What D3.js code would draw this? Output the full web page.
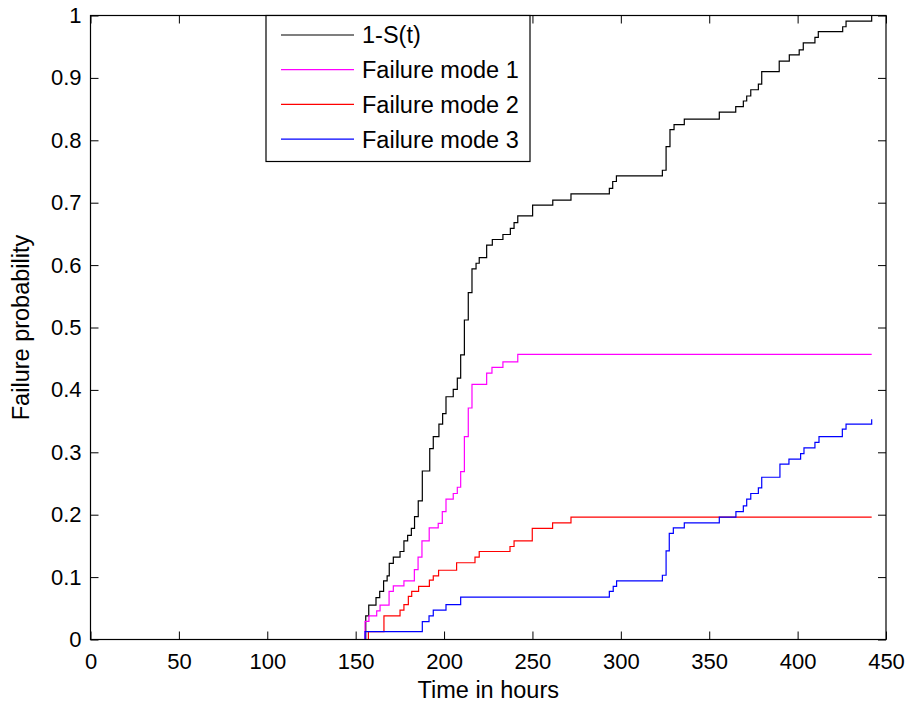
<!DOCTYPE html>
<meta charset="utf-8">
<style>

html,
body {
  margin: 0;
  overflow: hidden;
  background: #fff;
}

text {
  font-family: Arial, "Liberation Sans", sans-serif;
  font-size: 22px;
  fill: #000;
}

.label,
.item text {
  font-size: 23.5px;
}

.curve {
  fill: none;
  stroke-width: 1.2;
}

</style>
<body>
<script src="https://d3js.org/d3.v7.min.js"></script>
<script>

var width = 908,
 height = 704,
 plotLeft = 90.5,
 plotRight = 886,
 plotTop = 15.5,
 plotBottom = 639.5,
 tickLen = 8;

// 1-S(t)
var survTimes = [0, 155.7, 157.4, 161.5, 163.6, 165.8, 167.8, 169.0, 171.3, 175.1, 177.3, 179.4, 181.5, 183.3, 185.4, 187.7,
  191.9, 193.9, 197.1, 199.2, 201.1, 205.2, 207.5, 209.4, 211.5, 213.7, 215.8, 218.1, 219.9, 224.1, 227.3, 233.3, 237.5,
  239.6, 241.7, 250.1, 261.5, 271.8, 293.5, 295.4, 297.5, 323.5, 325.6, 327.8, 330.1, 335.9, 355.7, 365.0, 369.3, 371.2,
  373.5, 377.8, 379.7, 389.6, 395.3, 400.9, 403.2, 409.8, 411.7, 425.5, 427.4, 441.9];
var survProb = [0, 0.038, 0.055, 0.067, 0.077, 0.094, 0.102, 0.122, 0.132, 0.141, 0.158, 0.167, 0.178, 0.197, 0.222, 0.270,
  0.306, 0.325, 0.345, 0.362, 0.389, 0.401, 0.419, 0.456, 0.512, 0.556, 0.594, 0.603, 0.612, 0.632, 0.641, 0.649, 0.659,
  0.668, 0.679, 0.696, 0.704, 0.714, 0.723, 0.734, 0.743, 0.752, 0.790, 0.817, 0.825, 0.834, 0.845, 0.854, 0.863, 0.871,
  0.881, 0.890, 0.910, 0.927, 0.937, 0.945, 0.956, 0.965, 0.974, 0.982, 0.991, 1.0];

// failure mode 1
var mode1Times = [0, 155.3, 157.5, 161.9, 163.8, 168.9, 171.3, 177.3, 183.2, 185.3, 187.5, 191.6, 196.7, 199.0, 201.1,
  205.2, 207.5, 209.4, 211.5, 213.7, 215.8, 224.1, 227.1, 233.3, 241.7, 441.9];
var mode1Prob = [0, 0.029, 0.038, 0.046, 0.055, 0.077, 0.086, 0.094, 0.112, 0.132, 0.158, 0.179, 0.186, 0.205, 0.225,
  0.234, 0.244, 0.269, 0.325, 0.371, 0.409, 0.427, 0.436, 0.445, 0.457, 0.457];

// failure mode 2
var mode2Times = [0, 157.2, 166.0, 175.1, 177.3, 179.8, 181.7, 185.6, 191.7, 193.9, 196.9, 207.1, 217.5, 219.9, 237.3,
  239.6, 249.9, 261.4, 271.8, 441.9];
var mode2Prob = [0, 0.0125, 0.038, 0.047, 0.056, 0.069, 0.077, 0.085, 0.095, 0.102, 0.111, 0.123, 0.132, 0.141, 0.149,
  0.158, 0.178, 0.187, 0.196, 0.196];

// failure mode 3
var mode3Times = [0, 155.3, 187.7, 191.5, 193.9, 201.1, 209.4, 293.5, 295.7, 297.6, 323.5, 325.6, 327.4, 329.7, 335.9,
  355.7, 365.1, 369.3, 371.2, 373.5, 377.8, 379.7, 390.0, 395.1, 401.7, 403.6, 409.8, 412.1, 425.3, 427.4, 441.9];
var mode3Prob = [0, 0.0125, 0.0285, 0.038, 0.047, 0.056, 0.068, 0.077, 0.085, 0.094, 0.103, 0.142, 0.170, 0.179, 0.187,
  0.196, 0.205, 0.214, 0.225, 0.234, 0.243, 0.260, 0.281, 0.289, 0.298, 0.307, 0.316, 0.325, 0.337, 0.345, 0.353];

var seriesNames = ["1-S(t)", "Failure mode 1", "Failure mode 2", "Failure mode 3"];
var seriesColors = ["#000000", "#ff00ff", "#ff0000", "#0000ff"];
var xTicks = [0, 50, 100, 150, 200, 250, 300, 350, 400, 450];
var yTicks = [0, 0.1, 0.2, 0.3, 0.4, 0.5, 0.6, 0.7, 0.8, 0.9, 1];

var series = [
  d3.zip(survTimes, survProb),
  d3.zip(mode1Times, mode1Prob),
  d3.zip(mode2Times, mode2Prob),
  d3.zip(mode3Times, mode3Prob)
];

var x = d3.scaleLinear().domain([0, 450]).range([plotLeft, plotRight]);
var y = d3.scaleLinear().domain([0, 1]).range([plotBottom, plotTop]);

var svg = d3.select("body")
  .append("svg")
  .attr("width", width)
  .attr("height", height);

var line = d3.line()
  .x(function(d) { return x(d[0]); })
  .y(function(d) { return y(d[1]); })
  .curve(d3.curveStepAfter);

svg.selectAll(".curve")
  .data(series)
  .enter().append("path")
  .attr("class", "curve")
  .attr("d", line)
  .style("stroke", function(d, i) { return seriesColors[i]; });

// box axes, ticks pointing inward on all sides
var fmtX = d3.format("d");
var fmtY = function(v) { return v === 0 || v === 1 ? String(v) : d3.format(".1f")(v); };

function plain(g) {
  g.select(".domain").remove();
  g.attr("font-size", null).attr("font-family", null);
}

svg.append("g")
  .attr("transform", "translate(0," + plotBottom + ")")
  .call(d3.axisBottom(x).tickValues(xTicks).tickFormat(fmtX).tickSizeInner(-tickLen).tickSizeOuter(0).tickPadding(14))
  .call(plain);

svg.append("g")
  .attr("transform", "translate(0," + plotTop + ")")
  .call(d3.axisTop(x).tickValues(xTicks).tickFormat("").tickSizeInner(-tickLen).tickSizeOuter(0))
  .call(plain);

svg.append("g")
  .attr("transform", "translate(" + plotLeft + ",0)")
  .call(d3.axisLeft(y).tickValues(yTicks).tickFormat(fmtY).tickSizeInner(-tickLen).tickSizeOuter(0).tickPadding(9))
  .call(plain);

svg.append("g")
  .attr("transform", "translate(" + plotRight + ",0)")
  .call(d3.axisRight(y).tickValues(yTicks).tickFormat("").tickSizeInner(-tickLen).tickSizeOuter(0))
  .call(plain);

svg.append("rect")
  .attr("x", plotLeft)
  .attr("y", plotTop)
  .attr("width", plotRight - plotLeft)
  .attr("height", plotBottom - plotTop)
  .attr("fill", "none")
  .attr("stroke", "#000")
  .attr("stroke-width", 1.2);

svg.append("text")
  .attr("class", "label")
  .attr("x", (plotLeft + plotRight) / 2)
  .attr("y", 698)
  .attr("text-anchor", "middle")
  .text("Time in hours");

svg.append("text")
  .attr("class", "label")
  .attr("transform", "translate(29," + (plotTop + plotBottom) / 2 + ") rotate(-90)")
  .attr("text-anchor", "middle")
  .text("Failure probability");

// legend
var legend = svg.append("g").attr("transform", "translate(266,15.5)");

legend.append("rect")
  .attr("width", 264)
  .attr("height", 146)
  .attr("fill", "#fff")
  .attr("stroke", "#000")
  .attr("stroke-width", 1.2);

var item = legend.selectAll(".item")
  .data(seriesNames)
  .enter().append("g")
  .attr("class", "item")
  .attr("transform", function(d, i) { return "translate(0," + (19.5 + i * 34.7) + ")"; });

item.append("line")
  .attr("x1", 15)
  .attr("x2", 88)
  .attr("stroke-width", 1.2)
  .attr("stroke", function(d, i) { return seriesColors[i]; });

item.append("text")
  .attr("x", 96)
  .attr("dy", "0.36em")
  .text(function(d) { return d; });

</script>
